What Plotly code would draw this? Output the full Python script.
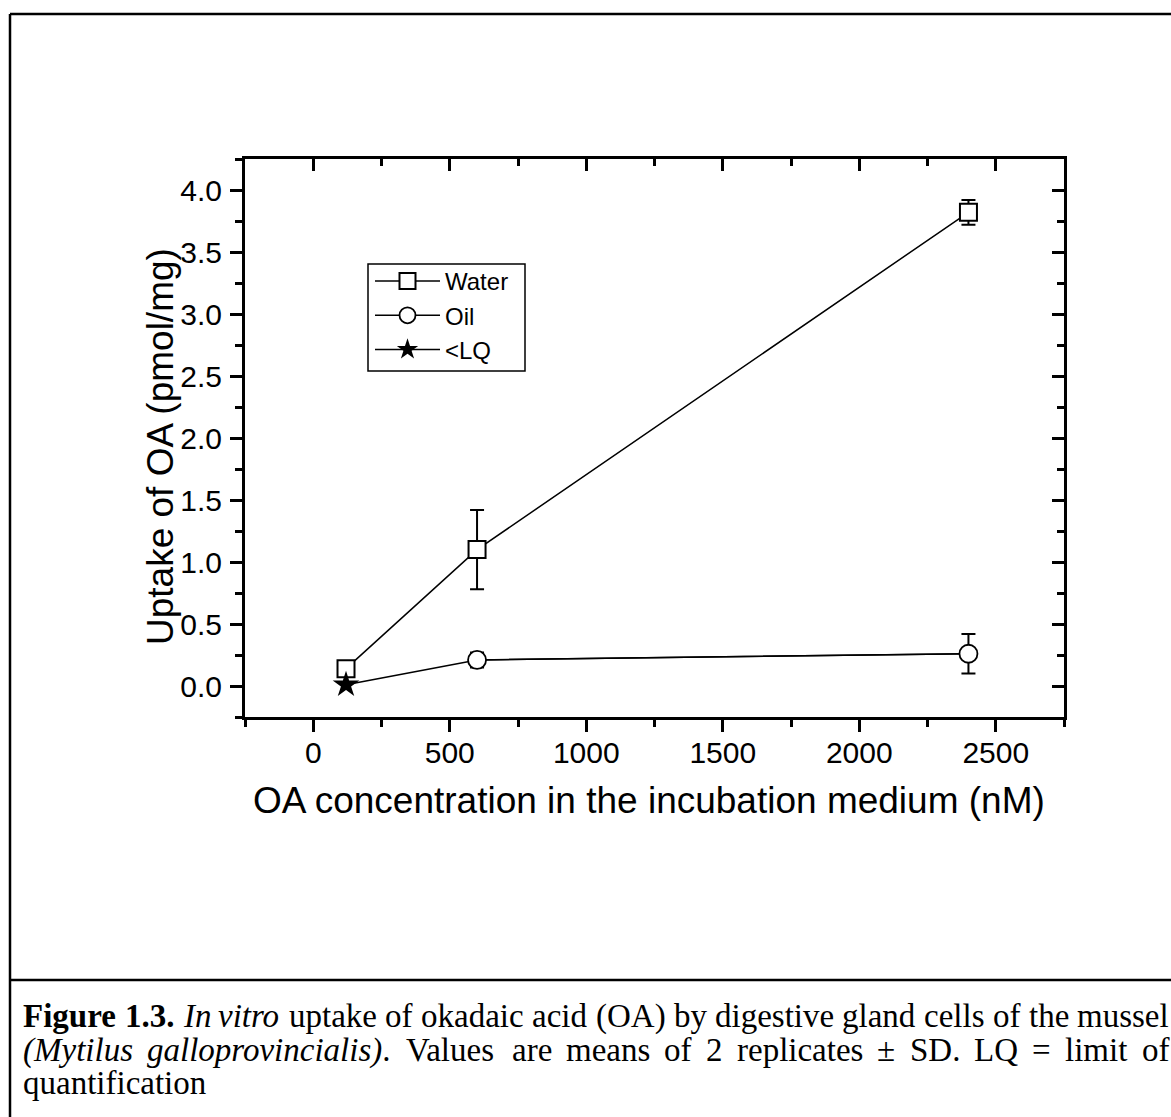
import plotly.graph_objects as go

# OA uptake by mussel digestive gland cells
conc_nM = [120, 600, 2400]
water_mean = [0.14, 1.10, 3.82]
water_sd = [0.03, 0.32, 0.10]
oil_conc = [600, 2400]
oil_mean = [0.21, 0.26]
oil_sd = [0.06, 0.16]
lq_conc = [120]
lq_value = [0.01]

x_ticks = [0, 500, 1000, 1500, 2000, 2500]
y_ticks = [0.0, 0.5, 1.0, 1.5, 2.0, 2.5, 3.0, 3.5, 4.0]

W, H = 1171, 1117
SANS = "Liberation Sans, Arial, sans-serif"
SERIF = "Liberation Serif, Times New Roman, serif"


def px(x):
    return x / W


def py(y):
    return 1 - y / H


fig = go.Figure()

# Oil line runs from the <LQ point through the oil means
fig.add_trace(go.Scatter(
    x=lq_conc + oil_conc, y=lq_value + oil_mean, mode="lines",
    line=dict(color="black", width=1.5), showlegend=False, hoverinfo="skip"))

fig.add_trace(go.Scatter(
    x=conc_nM, y=water_mean, name="Water", mode="lines+markers",
    line=dict(color="black", width=1.5),
    marker=dict(symbol="square", size=17, color="white",
                line=dict(color="black", width=2)),
    error_y=dict(type="data", array=water_sd, visible=True,
                 color="black", thickness=2, width=7)))

fig.add_trace(go.Scatter(
    x=oil_conc, y=oil_mean, name="Oil", mode="lines+markers",
    line=dict(color="black", width=1.5),
    marker=dict(symbol="circle", size=18, color="white",
                line=dict(color="black", width=1.8)),
    error_y=dict(type="data", array=oil_sd, visible=True,
                 color="black", thickness=2, width=7)))

fig.add_trace(go.Scatter(
    x=lq_conc, y=lq_value, name="<LQ", mode="lines+markers",
    line=dict(color="black", width=1.5),
    marker=dict(symbol="star", size=20, color="black",
                line=dict(color="black", width=0))))

# empty trace so the mirrored top/right axes are drawn
fig.add_trace(go.Scatter(x=[], y=[], xaxis="x2", yaxis="y2",
                         showlegend=False, hoverinfo="skip"))

x_dom = [px(245), px(1064)]
y_dom = [py(717), py(159)]
x_rng = [-250, 2750]
y_rng = [-0.25, 4.25]

axis_common = dict(showline=True, linecolor="black", linewidth=3,
                   showgrid=False, zeroline=False, tickcolor="black",
                   tickwidth=2.5, ticklen=12)

fig.update_layout(
    width=W, height=H,
    margin=dict(l=0, r=0, t=0, b=0),
    paper_bgcolor="white", plot_bgcolor="white",
    font=dict(family=SANS, color="black"),
    xaxis=dict(domain=x_dom, range=x_rng, anchor="y", ticks="outside",
               tickvals=x_ticks, ticktext=[str(v) for v in x_ticks],
               tickfont=dict(size=30, family=SANS), ticklabelstandoff=-5,
               minor=dict(dtick=250, tick0=0, ticks="outside", ticklen=7,
                          tickwidth=2.5, tickcolor="black"),
               **axis_common),
    yaxis=dict(domain=y_dom, range=y_rng, anchor="x", ticks="outside",
               tickvals=y_ticks, ticktext=[f"{v:.1f}" for v in y_ticks],
               tickfont=dict(size=30, family=SANS), ticklabelstandoff=2,
               minor=dict(dtick=0.25, tick0=0, ticks="outside", ticklen=7,
                          tickwidth=2.5, tickcolor="black"),
               **axis_common),
    xaxis2=dict(domain=x_dom, range=x_rng, overlaying="x", side="top",
                anchor="y", ticks="inside", tickvals=x_ticks,
                showticklabels=False,
                minor=dict(dtick=250, tick0=0, ticks="inside", ticklen=7,
                           tickwidth=2.5, tickcolor="black"),
                **axis_common),
    yaxis2=dict(domain=y_dom, range=y_rng, overlaying="y", side="right",
                anchor="x", ticks="inside", tickvals=y_ticks,
                showticklabels=False,
                minor=dict(dtick=0.25, tick0=0, ticks="inside", ticklen=7,
                           tickwidth=2.5, tickcolor="black"),
                **axis_common),
    showlegend=True,
    legend=dict(x=px(370), y=py(259), xanchor="left", yanchor="top",
                bgcolor="rgba(0,0,0,0)", borderwidth=0,
                font=dict(size=24, family=SANS, color="black"),
                itemwidth=65, tracegroupgap=0),
)

# axis titles
fig.add_annotation(text="OA concentration in the incubation medium (nM)",
                   x=px(649), y=py(800), xref="paper", yref="paper",
                   showarrow=False, font=dict(size=37, family=SANS),
                   xanchor="center", yanchor="middle")
fig.add_annotation(text="Uptake of OA (pmol/mg)", textangle=-90,
                   x=px(161), y=py(446), xref="paper", yref="paper",
                   showarrow=False, font=dict(size=37, family=SANS),
                   xanchor="center", yanchor="middle")

# legend frame, outer frame and caption separator
fig.add_shape(type="rect", xref="paper", yref="paper",
              x0=px(368), x1=px(525), y0=py(371), y1=py(264),
              line=dict(color="black", width=1.5))
frame = dict(color="black", width=2.5)
fig.add_shape(type="line", xref="paper", yref="paper",
              x0=px(10), x1=1, y0=py(14), y1=py(14), line=frame)
fig.add_shape(type="line", xref="paper", yref="paper",
              x0=px(10), x1=px(10), y0=py(14), y1=0, line=frame)
fig.add_shape(type="line", xref="paper", yref="paper",
              x0=px(10), x1=1, y0=py(980), y1=py(980), line=frame)

# ---- justified caption (Times metrics, units per 1000 em) ----
ROMAN = {" ": 250, "(": 333, ")": 333, ".": 250, "2": 500, "±": 564,
         "=": 564, "A": 722, "D": 722, "L": 611, "Q": 722, "S": 556,
         "V": 722, "O": 722, "a": 444, "b": 500, "c": 444, "d": 500,
         "e": 444, "f": 333, "g": 500, "h": 500, "i": 278, "k": 500,
         "l": 278, "m": 778, "n": 500, "o": 500, "p": 500, "q": 500,
         "r": 333, "s": 389, "t": 278, "u": 500, "v": 500, "y": 500}
ITALIC = {"(": 333, ")": 333, "M": 833, "I": 333, "a": 500, "c": 444,
          "g": 500, "i": 278, "l": 278, "n": 500, "o": 500, "p": 500,
          "r": 389, "s": 389, "t": 278, "u": 500, "v": 444, "y": 444}
BOLD = {"F": 611, "i": 278, "g": 500, "u": 556, "r": 444, "e": 444,
        "1": 500, ".": 250, "3": 500}
STYLE = {"r": (ROMAN, "{}"), "i": (ITALIC, "<i>{}</i>"),
         "b": (BOLD, "<b>{}</b>")}

CAP_SIZE = 33
cap_font = dict(size=CAP_SIZE, family=SERIF, color="black")


def word_width(runs):
    return sum(STYLE[s][0].get(ch, 500) for txt, s in runs
               for ch in txt) * CAP_SIZE / 1000


def word_html(runs):
    return "".join(STYLE[s][1].format(txt) for txt, s in runs)


def caption_line(words, y, left=22, right=1168, justify=True):
    widths = [word_width(w) for w in words]
    if justify and len(words) > 1:
        gap = (right - left - sum(widths)) / (len(words) - 1)
    else:
        gap = ROMAN[" "] * CAP_SIZE / 1000
    x = left
    for w, wd in zip(words, widths):
        fig.add_annotation(text=word_html(w), x=px(x), y=py(y),
                           xref="paper", yref="paper", showarrow=False,
                           xanchor="left", yanchor="middle", font=cap_font,
                           borderpad=0)
        x += wd + gap


line1 = [[("Figure", "b")], [("1.3.", "b")], [("In", "i")],
         [("vitro", "i")]] + [[(w, "r")] for w in
                              "uptake of okadaic acid (OA) by digestive "
                              "gland cells of the mussel".split()]
line2 = [[("(Mytilus", "i")], [("galloprovincialis)", "i"), (".", "r")]] + \
        [[(w, "r")] for w in
         "Values are means of 2 replicates ± SD. LQ = limit of".split()]
line3 = [[("quantification", "r")]]

caption_line(line1, 1016)
caption_line(line2, 1050)
caption_line(line3, 1083, justify=False)

fig.write_html("out.html")
